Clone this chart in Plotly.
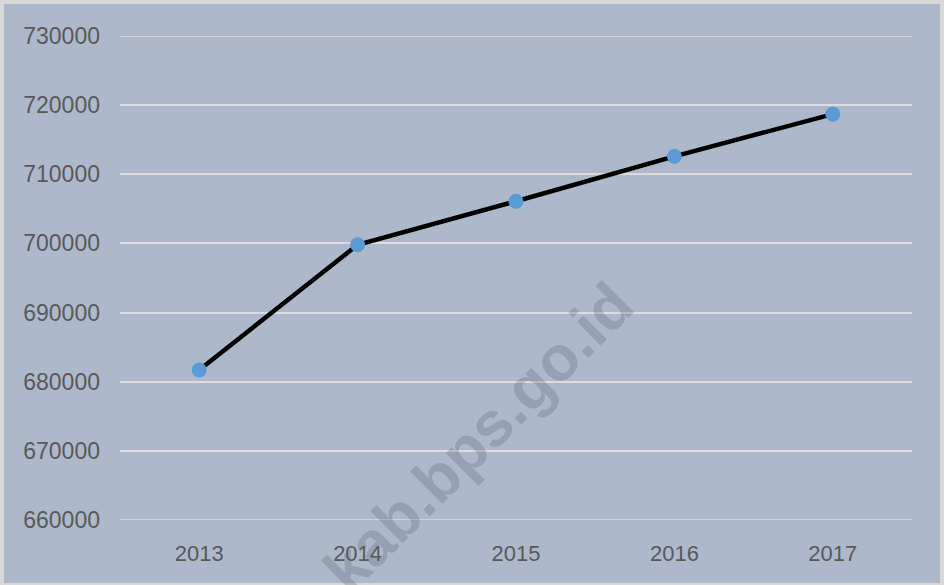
import plotly.graph_objects as go

years = ["2013", "2014", "2015", "2016", "2017"]
values = [681700, 699800, 706100, 712600, 718700]
y_ticks = [660000, 670000, 680000, 690000, 700000, 710000, 720000, 730000]

W, H = 944, 585
L, R, T, B = 120, 32, 36, 65
pw, ph = W - L - R, H - T - B

def px(x):
    return (x - L) / pw

def py(y):
    return (H - B - y) / ph

fig = go.Figure()
fig.add_trace(go.Scatter(
    x=years, y=values, mode="lines+markers",
    line=dict(color="black", width=4.5),
    marker=dict(color="#5B9BD5", size=15, line=dict(width=0)),
    showlegend=False, hoverinfo="x+y",
))

shapes = [dict(
    type="rect", xref="paper", yref="paper", layer="below",
    x0=px(4), x1=px(940), y0=py(583), y1=py(4),
    fillcolor="#ADB9CA", line=dict(width=0),
)]
# edge gridlines (plotly omits gridlines at the range ends)
for v in (y_ticks[0], y_ticks[-1]):
    shapes.append(dict(
        type="line", xref="paper", yref="y", layer="between",
        x0=0, x1=1, y0=v, y1=v, line=dict(color="#DCDCDC", width=1.5),
    ))

fig.update_layout(
    width=W, height=H,
    margin=dict(l=L, r=R, t=T, b=B),
    paper_bgcolor="#D9D9D9",
    plot_bgcolor="rgba(0,0,0,0)",
    font=dict(family="Liberation Sans, Arial, sans-serif", size=22, color="#595959"),
    xaxis=dict(
        type="category", range=[-0.5, 4.5], showgrid=False, showline=False,
        zeroline=False, ticks="", ticklabelstandoff=18, fixedrange=True,
        tickfont=dict(size=22),
    ),
    yaxis=dict(
        range=[660000, 730000], tickvals=y_ticks,
        ticktext=[str(v) for v in y_ticks],
        showgrid=True, gridcolor="#DCDCDC", gridwidth=1.5,
        zeroline=False, showline=False, ticks="", ticklabelstandoff=19,
        fixedrange=True, tickfont=dict(size=23),
    ),
    shapes=shapes,
    annotations=[dict(
        text="<b>kab.bps.go.id</b>", xref="paper", yref="paper",
        x=px(478), y=py(437), xanchor="center", yanchor="middle",
        showarrow=False, textangle=-45,
        font=dict(family="Liberation Sans, Arial, sans-serif", size=63,
                  color="rgba(80,90,105,0.25)"),
    )],
)

fig.write_html(
    "out.html",
    config={"displayModeBar": False},
    post_script="document.body.style.margin='0';document.body.style.overflow='hidden';",
)
